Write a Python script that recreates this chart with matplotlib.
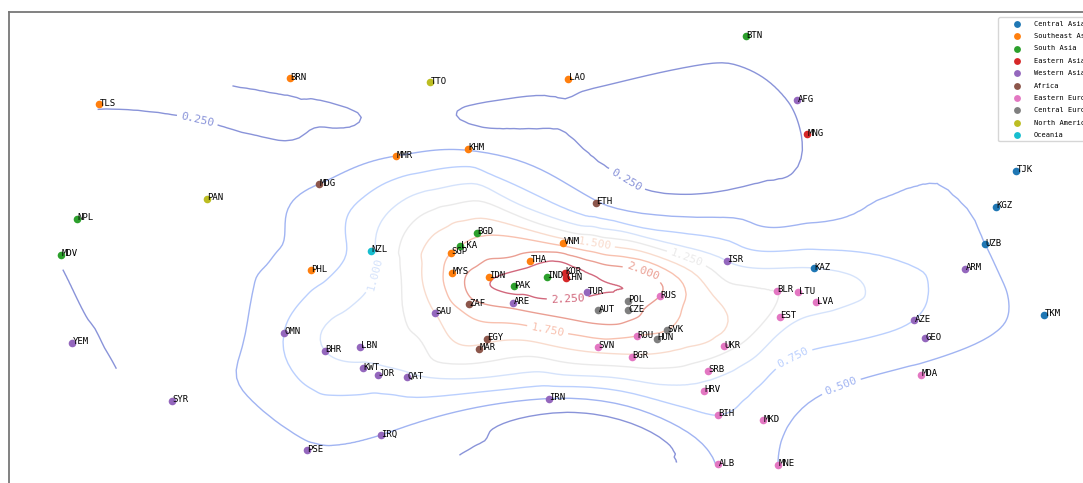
import matplotlib
matplotlib.use('Agg')
import matplotlib.pyplot as plt
import numpy as np
from matplotlib.tri import Triangulation, UniformTriRefiner

# country codes, region, 2-D position and interpolated score
codes = ['TLS', 'BRN', 'TTO', 'LAO', 'BTN', 'AFG', 'MNG', 'MMR', 'KHM', 'MDG',
         'PAN', 'ETH', 'TJK', 'KGZ', 'NPL', 'MDV', 'BGD', 'LKA', 'SGP', 'VNM',
         'NZL', 'UZB', 'ISR', 'KAZ', 'ARM', 'PHL', 'THA', 'MYS', 'IDN', 'IND',
         'KOR', 'CHN', 'PAK', 'TUR', 'RUS', 'BLR', 'LTU', 'LVA', 'POL', 'CZE',
         'AUT', 'ARE', 'ZAF', 'SAU', 'EST', 'TKM', 'AZE', 'GEO', 'OMN', 'YEM',
         'SVK', 'HUN', 'ROU', 'EGY', 'MAR', 'BHR', 'LBN', 'SVN', 'BGR', 'UKR',
         'SRB', 'KWT', 'JOR', 'QAT', 'MDA', 'HRV', 'IRN', 'SYR', 'BIH', 'MKD',
         'IRQ', 'PSE', 'ALB', 'MNE']

regions = ['Southeast Asia', 'Southeast Asia', 'North America', 'Southeast Asia', 'South Asia',
           'Western Asia', 'Eastern Asia', 'Southeast Asia', 'Southeast Asia', 'Africa',
           'North America', 'Africa', 'Central Asia', 'Central Asia', 'South Asia',
           'South Asia', 'South Asia', 'South Asia', 'Southeast Asia', 'Southeast Asia',
           'Oceania', 'Central Asia', 'Western Asia', 'Central Asia', 'Western Asia',
           'Southeast Asia', 'Southeast Asia', 'Southeast Asia', 'Southeast Asia', 'South Asia',
           'Eastern Asia', 'Eastern Asia', 'South Asia', 'Western Asia', 'Eastern Europe',
           'Eastern Europe', 'Eastern Europe', 'Eastern Europe', 'Central Europe', 'Central Europe',
           'Central Europe', 'Western Asia', 'Africa', 'Western Asia', 'Eastern Europe',
           'Central Asia', 'Western Asia', 'Western Asia', 'Western Asia', 'Western Asia',
           'Central Europe', 'Central Europe', 'Eastern Europe', 'Africa', 'Africa',
           'Western Asia', 'Western Asia', 'Eastern Europe', 'Eastern Europe', 'Eastern Europe',
           'Eastern Europe', 'Western Asia', 'Western Asia', 'Western Asia', 'Eastern Europe',
           'Eastern Europe', 'Western Asia', 'Western Asia', 'Eastern Europe', 'Eastern Europe',
           'Western Asia', 'Western Asia', 'Eastern Europe', 'Eastern Europe']

dim1 = [99, 290, 430, 568, 746, 797, 807, 396, 468, 319,
        207, 596, 1016, 996, 77, 61, 477, 460, 451, 563,
        371, 985, 727, 814, 965, 311, 530, 452, 489, 547,
        565, 566, 514, 587, 660, 777, 798, 816, 628, 628,
        598, 513, 469, 435, 780, 1044, 914, 925, 284, 72,
        667, 657, 637, 487, 479, 325, 360, 598, 632, 724,
        708, 363, 378, 407, 921, 704, 549, 172, 718, 763,
        381, 307, 718, 778]

dim2 = [379, 405, 401, 404, 447, 383, 349, 327, 334, 299,
        284, 280, 312, 276, 264, 228, 250, 237, 230, 240,
        232, 239, 222, 215, 214, 213, 222, 210, 206, 206,
        210, 205, 197, 191, 187, 192, 191, 181, 182, 173,
        173, 180, 179, 170, 166, 168, 163, 145, 150, 140,
        153, 144, 147, 144, 134, 132, 136, 136, 126, 137,
        112, 115, 108, 106, 108, 92, 84, 82, 68, 63,
        48, 33, 19, 18]

score = [0.23, 0.35, 0.38, 0.30, 0.35, 0.28, 0.27, 0.50, 0.48, 0.50,
         0.40, 0.52, 0.38, 0.45, 0.32, 0.26, 1.70, 1.75, 1.75, 1.65,
         0.95, 0.50, 1.00, 1.00, 0.60, 0.65, 2.15, 1.85, 2.20, 2.40,
         2.40, 2.40, 2.35, 2.30, 2.00, 1.25, 1.20, 1.10, 2.12, 2.08,
         2.15, 2.10, 1.90, 1.50, 1.15, 0.38, 0.75, 0.65, 0.75, 0.22,
         1.75, 1.70, 1.75, 1.55, 1.45, 1.00, 1.10, 1.60, 1.45, 1.35,
         1.10, 0.95, 0.90, 0.95, 0.42, 0.92, 0.49, 0.32, 0.75, 0.62,
         0.50, 0.48, 0.52, 0.50]

region_order = ['Central Asia', 'Southeast Asia', 'South Asia', 'Eastern Asia', 'Western Asia',
                'Africa', 'Eastern Europe', 'Central Europe', 'North America', 'Oceania']
region_colors = ['#1f77b4', '#ff7f0e', '#2ca02c', '#d62728', '#9467bd',
                 '#8c564b', '#e377c2', '#7f7f7f', '#bcbd22', '#17becf']

levels = [0.25, 0.5, 0.75, 1.0, 1.25, 1.5, 1.75, 2.0, 2.25]
# where each level's value is written along its line
label_spots = [(195, 355), (625, 301), (845, 86), (802, 106), (380, 208),
               (687, 226), (595, 243), (548, 155), (640, 201), (568, 178)]

mono = 'DejaVu Sans Mono'

x = np.array(dim1, dtype=float)
y = np.array(dim2, dtype=float)
z = np.array(score, dtype=float)

fig = plt.figure(figsize=(10.83, 4.83), dpi=100)
ax = fig.add_axes([9 / 1083, -17 / 483, 1101 / 1083, 488 / 483])
ax.set_xlim(9, 1110)
ax.set_ylim(-17, 471)
ax.set_xticks([])
ax.set_yticks([])
for side in ('top', 'left', 'right', 'bottom'):
    ax.spines[side].set_color('#777777')
    ax.spines[side].set_linewidth(1.3)

# smooth score surface over the triangulated points
tri = Triangulation(x, y)
tri_f, z_f = UniformTriRefiner(tri).refine_field(z, subdiv=4)
cs = ax.tricontour(tri_f, z_f, levels=levels, cmap='coolwarm',
                   linewidths=1.0, alpha=0.6, zorder=1)
lbls = ax.clabel(cs, fmt='%.3f', fontsize=8, inline=True, manual=label_spots)
for t in lbls:
    t.set_family(mono)
    t.set_alpha(0.6)

for reg, col in zip(region_order, region_colors):
    idx = [i for i, r in enumerate(regions) if r == reg]
    ax.scatter(x[idx], y[idx], s=30, color=col, label=reg, zorder=3, linewidths=0)

for c, xi, yi in zip(codes, x, y):
    ax.text(xi + 0.5, yi - 1.5, c, fontsize=6.5, family=mono,
            ha='left', va='baseline', zorder=4)

fig.legend(loc='upper left', bbox_to_anchor=(995 / 1083, 1 - 14 / 483),
           prop={'family': mono, 'size': 5}, labelspacing=0.92,
           handlelength=4.3, handletextpad=0.3, borderpad=0.45,
           markerscale=0.9, frameon=True)

fig.savefig('out.png', dpi=100)
